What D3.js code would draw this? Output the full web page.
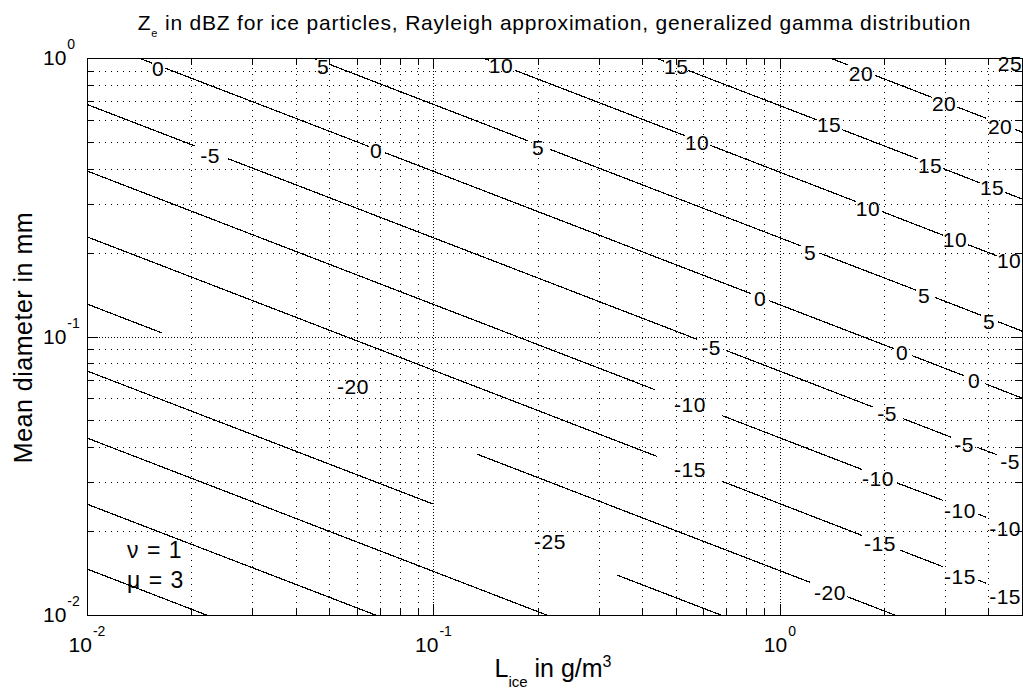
<!DOCTYPE html>
<html>
<head>
<meta charset="utf-8">
<script src="https://cdn.jsdelivr.net/npm/d3@7"></script>
<style>
    body { margin: 0; background: #fff; }
    svg { display: block; font-family: "Liberation Sans", Arial, Helvetica, sans-serif; }
</style>
</head>
<body>
<svg id="chart"></svg>
<script>
// contour levels, Ze in dBZ
const levels = [20, 15, 10, 5, 0, -5, -10, -15, -20, -25, -30, -35, -40];

// visible pieces of every contour line: [level, [L, D], [L, D]]  (L in g/m3, D in mm)
const segments = [
    [20, [1.396, 1.0], [1.573, 0.944]],
    [20, [1.883, 0.866], [2.750, 0.722]],
    [20, [3.247, 0.667], [3.938, 0.608]],
    [20, [4.775, 0.5545], [5.0, 0.542]],
    [15, [0.439, 1.0], [0.463, 0.974]],
    [15, [0.543, 0.903], [1.281, 0.599]],
    [15, [1.512, 0.553], [2.506, 0.434]],
    [15, [2.959, 0.401], [3.784, 0.356]],
    [15, [4.468, 0.329], [5.0, 0.312]],
    [10, [0.139, 1.0], [0.1447, 0.981]],
    [10, [0.172, 0.903], [0.5325, 0.526]],
    [10, [0.629, 0.486], [1.660, 0.305]],
    [10, [1.972, 0.281], [2.959, 0.231]],
    [10, [3.494, 0.2136], [4.236, 0.1948]],
    [5, [0.0443, 1.006], [0.0461, 0.987]],
    [5, [0.0503, 0.947], [0.1876, 0.504]],
    [5, [0.217, 0.470], [1.151, 0.2115]],
    [5, [1.307, 0.199], [2.473, 0.1467]],
    [5, [2.805, 0.1381], [3.809, 0.1192]],
    [5, [4.265, 0.1130], [5.0, 0.1046]],
    [0, [0.0141, 1.0], [0.0154, 0.959]],
    [0, [0.0168, 0.920], [0.0652, 0.481]],
    [0, [0.0725, 0.457], [0.826, 0.1425]],
    [0, [0.931, 0.1345], [2.136, 0.0904]],
    [0, [2.407, 0.0854], [3.402, 0.0723]],
    [0, [3.912, 0.0677], [5.0, 0.0601]],
    [-5, [0.01, 0.681], [0.0205, 0.483]],
    [-5, [0.02553, 0.435], [0.577, 0.0977]],
    [-5, [0.704, 0.0888], [1.858, 0.0558]],
    [-5, [2.268, 0.0507], [3.121, 0.0435]],
    [-5, [3.710, 0.0400], [4.236, 0.0376]],
    [-10, [0.01, 0.393], [0.436, 0.0644]],
    [-10, [0.681, 0.0520], [1.727, 0.0333]],
    [-10, [2.179, 0.0298], [2.959, 0.0258]],
    [-10, [3.734, 0.0230], [3.938, 0.02246]],
    [-15, [0.01, 0.228], [0.442, 0.0371]],
    [-15, [0.681, 0.0302], [1.727, 0.0193]],
    [-15, [2.223, 0.0171], [2.959, 0.0149]],
    [-15, [3.734, 0.01335], [3.938, 0.0130]],
    [-20, [0.01, 0.1308], [0.01646, 0.1030]],
    [-20, [0.1336, 0.0378], [1.222, 0.0131]],
    [-20, [1.563, 0.01164], [2.223, 0.00983]],
    [-25, [0.01, 0.0752], [0.1, 0.0250]],
    [-25, [0.339, 0.01391], [0.718, 0.00971]],
    [-30, [0.01, 0.0432], [0.232, 0.00958]],
    [-35, [0.01, 0.0250], [0.0725, 0.00970]],
    [-40, [0.01, 0.01463], [0.02342, 0.00973]]
];

// inline labels: [level, L, D]
const contourLabels = [
    [25, 4.617, 0.959],
    [20, 1.715, 0.883], [20, 2.979, 0.684], [20, 4.322, 0.570],
    [15, 0.502, 0.936], [15, 1.387, 0.579], [15, 2.714, 0.413], [15, 4.098, 0.344],
    [10, 0.1567, 0.944], [10, 0.577, 0.499], [10, 1.797, 0.289], [10, 3.204, 0.224], [10, 4.588, 0.188],
    [5, 0.0480, 0.936], [5, 0.2004, 0.479], [5, 1.222, 0.201], [5, 2.608, 0.1409], [5, 4.017, 0.1137],
    [0, 0.01603, 0.921], [0, 0.0683, 0.464], [0, 0.877, 0.1375], [0, 2.253, 0.0880], [0, 3.636, 0.0698],
    [-5, 0.02265, 0.448], [-5, 0.633, 0.0917], [-5, 2.039, 0.0531], [-5, 3.402, 0.0411], [-5, 4.619, 0.0357],
    [-10, 0.5505, 0.0572], [-10, 1.920, 0.0310], [-10, 3.312, 0.0238], [-10, 4.468, 0.0204],
    [-15, 0.5505, 0.0332], [-15, 1.946, 0.0181], [-15, 3.312, 0.0138], [-15, 4.468, 0.0117],
    [-20, 0.0586, 0.0664], [-20, 1.396, 0.0121],
    [-25, 0.217, 0.0183]
];

const xTicks = [0.01, 0.1, 1];
const xMinor = [0.02, 0.03, 0.04, 0.05, 0.06, 0.07, 0.08, 0.09, 0.2, 0.3, 0.4, 0.5, 0.6, 0.7, 0.8, 0.9, 2, 3, 4, 5];
const yTicks = [0.01, 0.1, 1];
const yMinor = [0.02, 0.03, 0.04, 0.05, 0.06, 0.07, 0.08, 0.09, 0.2, 0.3, 0.4, 0.5, 0.6, 0.7, 0.8, 0.9];

const params = ['\u03bd = 1', '\u03bc = 3'];

class ContourChart {
    constructor(config) {
        this.config = {
            parent: config.parent,
            width: config.width || 1023,
            height: config.height || 689,
            margin: config.margin || { top: 58, right: 1, bottom: 74, left: 87 }
        };
        this.init();
    }

    init() {
        let self = this;

        self.svg = d3.select(self.config.parent)
            .attr('width', self.config.width)
            .attr('height', self.config.height);

        self.inner_width = self.config.width - self.config.margin.left - self.config.margin.right;
        self.inner_height = self.config.height - self.config.margin.top - self.config.margin.bottom;

        self.chart = self.svg.append('g')
            .attr('transform', `translate(${self.config.margin.left}, ${self.config.margin.top})`);

        self.xscale = d3.scaleLog()
            .domain([0.01, 5])
            .range([0, self.inner_width]);

        self.yscale = d3.scaleLog()
            .domain([0.01, 1])
            .range([self.inner_height, 0]);

        self.chart.append('clipPath')
            .attr('id', 'plot-clip')
            .append('rect')
            .attr('width', self.inner_width)
            .attr('height', self.inner_height);
    }

    render() {
        let self = this;
        const iw = self.inner_width, ih = self.inner_height;

        // dotted grid (major lines get a second, shifted dot pattern)
        const grid = (axis, transform, offset) => {
            const g = self.chart.append('g')
                .attr('transform', transform)
                .call(axis);
            g.select('.domain').remove();
            g.selectAll('.tick line')
                .attr('stroke', '#000')
                .attr('stroke-dasharray', '1,5')
                .attr('stroke-dashoffset', offset)
                .attr('shape-rendering', 'crispEdges');
        };
        grid(d3.axisBottom(self.xscale).tickValues(xTicks.concat(xMinor)).tickSize(-ih).tickFormat(''), `translate(0, ${ih})`, 0);
        grid(d3.axisBottom(self.xscale).tickValues(xTicks).tickSize(-ih).tickFormat(''), `translate(0, ${ih})`, 3);
        grid(d3.axisLeft(self.yscale).tickValues(yTicks.concat(yMinor)).tickSize(-iw).tickFormat(''), 'translate(0, 0)', 0);
        grid(d3.axisLeft(self.yscale).tickValues(yTicks).tickSize(-iw).tickFormat(''), 'translate(0, 0)', 3);

        // contour lines
        self.chart.append('g')
            .attr('clip-path', 'url(#plot-clip)')
            .selectAll('line')
            .data(segments)
            .join('line')
            .attr('x1', d => self.xscale(d[1][0]))
            .attr('y1', d => self.yscale(d[1][1]))
            .attr('x2', d => self.xscale(d[2][0]))
            .attr('y2', d => self.yscale(d[2][1]))
            .attr('stroke', '#000')
            .attr('stroke-width', 1.2)
            .attr('shape-rendering', 'crispEdges');

        // contour labels
        self.chart.append('g')
            .selectAll('text')
            .data(contourLabels)
            .join('text')
            .attr('x', d => self.xscale(d[1]))
            .attr('y', d => self.yscale(d[2]))
            .attr('dy', '0.36em')
            .attr('text-anchor', 'middle')
            .style('font-size', '21px')
            .style('letter-spacing', '0.5px')
            .text(d => String(d[0]));

        // box
        self.chart.append('rect')
            .attr('width', iw)
            .attr('height', ih)
            .attr('fill', 'none')
            .attr('stroke', '#000')
            .attr('stroke-width', 1)
            .attr('shape-rendering', 'crispEdges');

        // inward ticks on all four sides
        const ticks = (axis, transform) => {
            const g = self.chart.append('g')
                .attr('transform', transform)
                .call(axis.tickFormat(''));
            g.select('.domain').remove();
            g.selectAll('.tick line')
                .attr('stroke', '#000')
                .attr('shape-rendering', 'crispEdges');
        };
        ticks(d3.axisBottom(self.xscale).tickValues(xTicks).tickSize(-11), `translate(0, ${ih})`);
        ticks(d3.axisBottom(self.xscale).tickValues(xMinor).tickSize(-7), `translate(0, ${ih})`);
        ticks(d3.axisTop(self.xscale).tickValues(xTicks).tickSize(-11), 'translate(0, 0)');
        ticks(d3.axisTop(self.xscale).tickValues(xMinor).tickSize(-7), 'translate(0, 0)');
        ticks(d3.axisLeft(self.yscale).tickValues(yTicks).tickSize(-11), 'translate(0, 0)');
        ticks(d3.axisLeft(self.yscale).tickValues(yMinor).tickSize(-7), 'translate(0, 0)');
        ticks(d3.axisRight(self.yscale).tickValues(yTicks).tickSize(-11), `translate(${iw}, 0)`);
        ticks(d3.axisRight(self.yscale).tickValues(yMinor).tickSize(-7), `translate(${iw}, 0)`);

        // tick labels, 10 with exponent
        self.chart.append('g')
            .selectAll('text')
            .data(xTicks)
            .join('text')
            .attr('x', d => self.xscale(d))
            .attr('y', ih + 37)
            .attr('text-anchor', 'middle')
            .style('font-size', '21px')
            .call(t => {
                t.append('tspan').text('10');
                t.append('tspan').attr('dx', 1).attr('dy', -16).style('font-size', '14px')
                    .text(d => String(Math.round(Math.log10(d))));
            });

        self.chart.append('g')
            .selectAll('text')
            .data(yTicks)
            .join('text')
            .attr('x', -44)
            .attr('y', d => self.yscale(d) + 7)
            .style('font-size', '21px')
            .call(t => {
                t.append('tspan').text('10');
                t.append('tspan').attr('dx', 1).attr('dy', -16).style('font-size', '14px')
                    .text(d => String(Math.round(Math.log10(d))));
            });

        // distribution parameters
        self.chart.append('g')
            .selectAll('text')
            .data(params)
            .join('text')
            .attr('x', 40)
            .attr('y', (d, i) => 500 + i * 30)
            .style('font-size', '23px')
            .style('letter-spacing', '1px')
            .text(d => d);

        // title
        const title = self.svg.append('text')
            .attr('x', self.config.margin.left + iw / 2)
            .attr('y', 30)
            .attr('text-anchor', 'middle')
            .style('font-size', '21px')
            .style('letter-spacing', '0.8px')
            .style('white-space', 'pre');
        title.append('tspan').text('Z');
        title.append('tspan').attr('dy', 7).style('font-size', '11px').text('e');
        title.append('tspan').attr('dy', -7).text(' in dBZ for ice particles, Rayleigh approximation, generalized gamma distribution');

        // x label
        const xl = self.svg.append('text')
            .attr('x', 553)
            .attr('y', 677)
            .attr('text-anchor', 'middle')
            .style('font-size', '25px')
            .style('white-space', 'pre');
        xl.append('tspan').text('L');
        xl.append('tspan').attr('dy', 10).style('font-size', '15px').text('ice');
        xl.append('tspan').attr('dy', -10).text(' in g/m');
        xl.append('tspan').attr('dy', -10).style('font-size', '16px').text('3');

        // y label
        self.svg.append('text')
            .attr('transform', `translate(32, ${self.config.margin.top + ih / 2 + 1}) rotate(-90)`)
            .attr('text-anchor', 'middle')
            .style('font-size', '25px')
            .style('letter-spacing', '0.5px')
            .text('Mean diameter in mm');
    }
}

const chart = new ContourChart({ parent: '#chart' });
chart.render();
</script>
</body>
</html>
